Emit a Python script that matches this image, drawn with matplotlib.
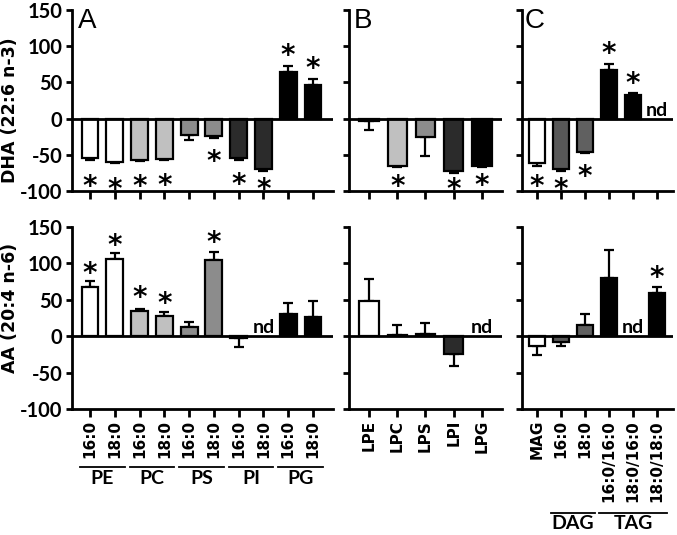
import numpy as np
import matplotlib
matplotlib.use("Agg")
import matplotlib.pyplot as plt
import matplotlib.transforms as mtransforms

# ---- data ----
nan = np.nan

a_labels = ["16:0", "18:0", "16:0", "18:0", "16:0", "18:0", "16:0", "18:0", "16:0", "18:0"]
a_groups = [("PE", 0, 1), ("PC", 2, 3), ("PS", 4, 5), ("PI", 6, 7), ("PG", 8, 9)]
a_colors = ["white", "white", "#c0c0c0", "#c0c0c0", "#8c8c8c", "#8c8c8c",
            "#2b2b2b", "#2b2b2b", "black", "black"]
a_dha = [-54, -60, -57, -56, -22, -24, -55, -70, 64, 47]
a_dha_err = [3, 2, 2, 1.5, 8, 3, 2, 3, 9, 8]
a_dha_star = [-84, -88, -84, -83, nan, -50, -82, -88, 96, 78]
a_aa = [68, 106, 35, 28, 13, 105, -2, nan, 31, 27]
a_aa_err = [8, 8, 3, 5, 7, 11, 13, 0, 14, 21]
a_aa_star = [96, 134, 62, 54, nan, 138, nan, nan, nan, nan]

b_labels = ["LPE", "LPC", "LPS", "LPI", "LPG"]
b_colors = ["white", "#c0c0c0", "#8c8c8c", "#2b2b2b", "black"]
b_dha = [-3, -65, -26, -73, -65]
b_dha_err = [13, 2, 26, 2, 2]
b_dha_star = [nan, -85, nan, -89, -83]
b_aa = [48, 2, 3, -24, nan]
b_aa_err = [30, 13, 15, 17, 0]
b_aa_star = [nan, nan, nan, nan, nan]

c_labels = ["MAG", "16:0", "18:0", "16:0/16:0", "18:0/16:0", "18:0/18:0"]
c_groups = [("DAG", 1, 2), ("TAG", 3, 5)]
c_colors = ["white", "#585858", "#606060", "black", "black", "black"]
c_dha = [-62, -70, -46, 67, 32, nan]
c_dha_err = [4, 3, 1, 8, 4, 0]
c_dha_star = [-85, -88, -70, 99, 58, nan]
c_aa = [-13, -8, 16, 80, nan, 60]
c_aa_err = [13, 6, 14, 39, 0, 7]
c_aa_star = [nan, nan, nan, nan, nan, 90]

W, H = 677, 535
LINE = 1.6


def draw_panel(ax, vals, errs, colors, stars, xlim, labels=None, show_y=False):
    vals = np.array(vals, dtype=float)
    errs = np.array(errs, dtype=float)
    x = np.arange(len(vals))
    ok = ~np.isnan(vals)
    lower = np.where(vals < 0, errs, 0)
    upper = np.where(vals >= 0, errs, 0)
    ax.errorbar(x[ok], vals[ok], yerr=[lower[ok], upper[ok]], fmt="none",
                ecolor="black", elinewidth=LINE, capsize=3.5, capthick=LINE, zorder=2)
    ax.bar(x[ok], vals[ok], width=0.68, color=np.array(colors)[ok],
           edgecolor="black", linewidth=LINE, zorder=3)
    for xi, v in zip(x, vals):
        if np.isnan(v):
            ax.text(xi, 4, "nd", ha="center", va="baseline", fontsize=14,
                    fontweight="bold", family="Lato", zorder=4)
    for xi, s in zip(x, stars):
        if not np.isnan(s):
            ax.annotate("*", (xi, s), xytext=(0, -11), textcoords="offset points",
                        ha="center", va="baseline", fontsize=20, fontweight="bold",
                        family="DejaVu Sans", zorder=4)
    ax.axhline(0, color="black", lw=2, zorder=4)
    ax.set_xlim(*xlim)
    ax.set_ylim(-100, 150)
    ax.set_yticks([-100, -50, 0, 50, 100, 150])
    ax.set_xticks(x)
    for side in ["top", "right"]:
        ax.spines[side].set_visible(False)
    for side in ["left", "bottom"]:
        ax.spines[side].set_linewidth(2)
    ax.tick_params(axis="y", direction="out", length=4, width=2, pad=3)
    ax.tick_params(axis="x", direction="out", length=6, width=2, pad=2)
    if labels is None:
        ax.set_xticklabels([])
    else:
        ax.set_xticklabels(labels, rotation=90, fontsize=11, fontweight="bold",
                           family="DejaVu Sans")
    if show_y:
        ax.set_yticklabels([str(t) for t in [-100, -50, 0, 50, 100, 150]],
                           fontsize=14.5, fontweight="bold", family="Lato")
    else:
        ax.set_yticklabels([])


def group_lines(fig, ax, groups, y_line, y_text):
    trans = mtransforms.blended_transform_factory(ax.transData, fig.transFigure)
    for name, i, j in groups:
        ax.plot([i - 0.4, j + 0.4], [1 - y_line / H] * 2, color="black", lw=1.3,
                transform=trans, clip_on=False)
        ax.text((i + j) / 2, 1 - y_text / H, name, transform=trans, ha="center",
                va="top", fontsize=14, fontweight="bold", family="Lato")


def main():
    fig = plt.figure(figsize=(W / 100, H / 100), dpi=100)

    cols = [(72, 261, (-0.73, 9.81)), (349, 153, (-0.71, 4.71)), (522, 151, (-0.63, 5.67))]
    rows = [(10, 191), (227, 409)]

    axes = {}
    for r, (top, bot) in enumerate(rows):
        for c, (left, width, xl) in enumerate(cols):
            axes[r, c] = fig.add_axes([left / W, 1 - bot / H, width / W, (bot - top) / H])

    draw_panel(axes[0, 0], a_dha, a_dha_err, a_colors, a_dha_star, cols[0][2], show_y=True)
    draw_panel(axes[0, 1], b_dha, b_dha_err, b_colors, b_dha_star, cols[1][2])
    draw_panel(axes[0, 2], c_dha, c_dha_err, c_colors, c_dha_star, cols[2][2])
    draw_panel(axes[1, 0], a_aa, a_aa_err, a_colors, a_aa_star, cols[0][2], a_labels, show_y=True)
    draw_panel(axes[1, 1], b_aa, b_aa_err, b_colors, b_aa_star, cols[1][2], b_labels)
    draw_panel(axes[1, 2], c_aa, c_aa_err, c_colors, c_aa_star, cols[2][2], c_labels)

    # panel letters
    for (letter, xpx) in [("A", 78), ("B", 354), ("C", 525)]:
        fig.text(xpx / W, 1 - 8 / H, letter, ha="left", va="top", fontsize=20,
                 family="Liberation Sans")

    # y axis titles
    fig.text(10 / W, 1 - 110 / H, "DHA (22:6 n-3)", rotation=90, ha="center",
             va="center", fontsize=12.5, fontweight="bold", family="DejaVu Sans")
    fig.text(10 / W, 1 - 308 / H, "AA (20:4 n-6)", rotation=90, ha="center",
             va="center", fontsize=12.5, fontweight="bold", family="DejaVu Sans")

    group_lines(fig, axes[1, 0], a_groups, 467, 470)
    group_lines(fig, axes[1, 2], c_groups, 513, 515)

    fig.savefig("out.png", dpi=100)
    plt.close(fig)


if __name__ == "__main__":
    main()
